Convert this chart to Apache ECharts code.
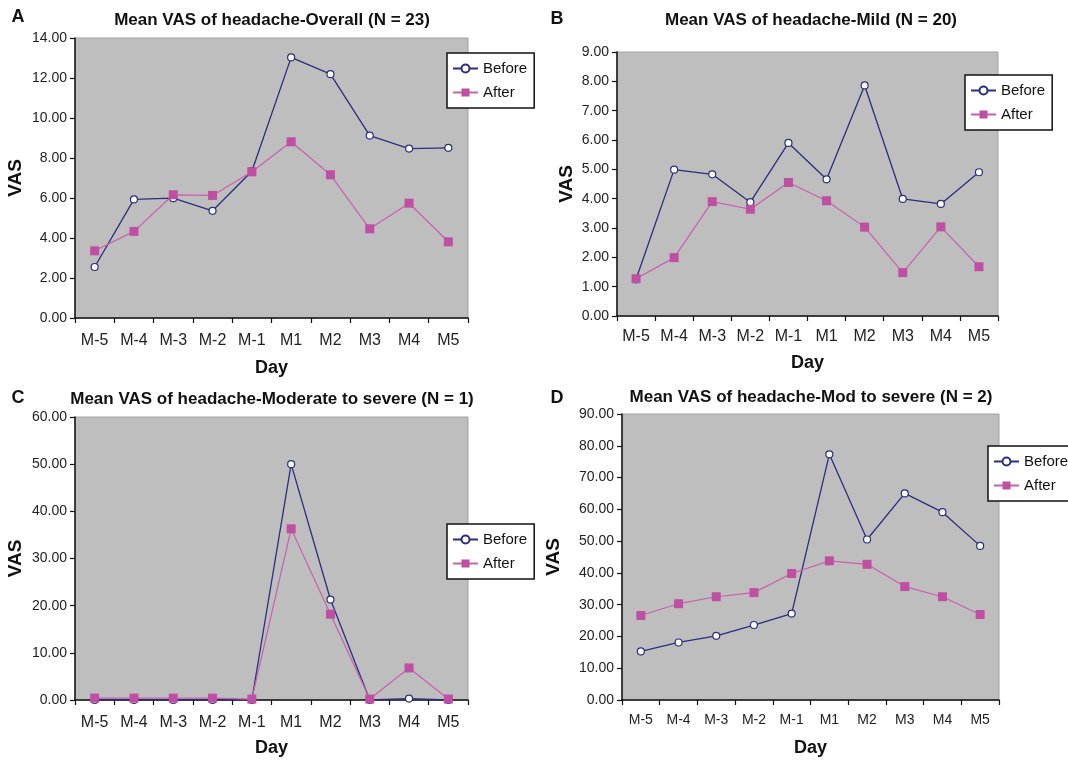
<!DOCTYPE html>
<html>
<head>
<meta charset="utf-8">
<script src="https://cdn.jsdelivr.net/npm/echarts@6/dist/echarts.min.js"></script>
<style>
html,body{margin:0;padding:0;background:#fff;}
#chart{width:1068px;height:760px;}
</style>
</head>
<body>
<div id="chart"></div>
<script>
const categories = ['M-5','M-4','M-3','M-2','M-1','M1','M2','M3','M4','M5'];
const overallBefore = [2.55,5.93,5.99,5.36,7.34,13.03,12.19,9.12,8.47,8.51];
const overallAfter  = [3.36,4.33,6.16,6.13,7.31,8.81,7.16,4.46,5.74,3.81];
const mildBefore = [1.25,4.99,4.83,3.88,5.90,4.66,7.86,3.99,3.82,4.90];
const mildAfter  = [1.27,1.99,3.90,3.64,4.55,3.93,3.03,1.48,3.04,1.68];
const modSevere1Before = [0,0,0,0,0,50.0,21.3,0,0.3,0];
const modSevere1After  = [0.4,0.4,0.4,0.4,0.2,36.3,18.2,0.2,6.8,0.2];
const modSevere2Before = [15.3,18.1,20.2,23.6,27.2,77.3,50.5,65.0,59.1,48.5];
const modSevere2After  = [26.6,30.3,32.5,33.8,39.8,43.8,42.7,35.7,32.5,26.9];
const yMax = [14, 9, 60, 90];
const yInterval = [2, 1, 10, 10];
const panelTitles = [
  'Mean VAS of headache-Overall (N = 23)',
  'Mean VAS of headache-Mild (N = 20)',
  'Mean VAS of headache-Moderate to severe (N = 1)',
  'Mean VAS of headache-Mod to severe (N = 2)'
];
const panelLetters = ['A','B','C','D'];
const seriesNames = ['Before','After'];

const FONT = '"Liberation Sans", Arial, sans-serif';
const NAVY = '#2B2D7E';
const PINK = '#BF4FA2';
const PINKLINE = '#C760AC';

const grids = [
  {left:75, top:38, width:393, height:280},
  {left:617, top:52, width:381, height:264},
  {left:75, top:417, width:393, height:283},
  {left:622, top:414, width:377, height:286}
];
const nameGapY = [50, 41, 50, 59];
const nameGapX = [41, 38, 39, 39];
const xLabelMargin = [15, 13, 15, 13];
const xLabelSize = [16, 16, 16, 14];
const legendPos = [
  {left:447, top:53},
  {left:965, top:75},
  {left:447, top:524},
  {left:988, top:446}
];
const titlePos = [
  {x:272, y:20}, {x:811, y:20}, {x:272, y:399}, {x:811, y:397}
];
const letterPos = [
  {x:18, y:17}, {x:557, y:19}, {x:18, y:398}, {x:557, y:398}
];
const dataSets = [
  [overallBefore, overallAfter],
  [mildBefore, mildAfter],
  [modSevere1Before, modSevere1After],
  [modSevere2Before, modSevere2After]
];

const chart = echarts.init(document.getElementById('chart'), null, {renderer:'canvas'});

const option = {
  backgroundColor: '#ffffff',
  animation: false,
  textStyle: {fontFamily: FONT},
  grid: grids.map(g => Object.assign({
    show: true, backgroundColor: '#BEBEBE', borderColor: '#A3A3A3', borderWidth: 1, containLabel: false
  }, g)),
  xAxis: grids.map((g, i) => ({
    type: 'category', gridIndex: i, data: categories, boundaryGap: true,
    name: 'Day', nameLocation: 'middle', nameGap: nameGapX[i],
    nameTextStyle: {fontFamily: FONT, fontSize: 18, fontWeight: 'bold', color: '#111', verticalAlign: 'top'},
    axisLine: {show: true, lineStyle: {color: '#111', width: 1.5}},
    axisTick: {show: true, inside: false, length: 5, alignWithLabel: false, lineStyle: {color: '#111', width: 1.2}},
    axisLabel: {fontFamily: FONT, fontSize: xLabelSize[i], color: '#222', margin: xLabelMargin[i], interval: 0},
    splitLine: {show: false}
  })),
  yAxis: grids.map((g, i) => ({
    type: 'value', gridIndex: i, min: 0, max: yMax[i], interval: yInterval[i],
    name: 'VAS', nameLocation: 'middle', nameGap: nameGapY[i], nameRotate: 90,
    nameTextStyle: {fontFamily: FONT, fontSize: 19, fontWeight: 'bold', color: '#111'},
    axisLine: {show: true, lineStyle: {color: '#111', width: 1.5}},
    axisTick: {show: true, inside: false, length: 5, lineStyle: {color: '#111', width: 1.2}},
    axisLabel: {fontFamily: FONT, fontSize: 14, color: '#222', margin: 8, formatter: v => v.toFixed(2)},
    splitLine: {show: false}
  })),
  legend: legendPos.map(p => ({
    left: p.left, top: p.top, orient: 'vertical',
    data: seriesNames,
    backgroundColor: '#ffffff', borderColor: '#111', borderWidth: 1.5,
    padding: [8, 7, 8, 5], itemGap: 9, itemWidth: 25, itemHeight: 10,
    textStyle: {fontFamily: FONT, fontSize: 15, color: '#111', lineHeight: 14},
    selectedMode: false, z: 10
  })),
  graphic: [
    ...titlePos.map((p, i) => ({
      type: 'text', x: p.x, y: p.y, z: 20,
      style: {text: panelTitles[i], fontFamily: FONT, fontSize: 17, fontWeight: 'bold', fill: '#111', textAlign: 'center', textVerticalAlign: 'middle'}
    })),
    ...letterPos.map((p, i) => ({
      type: 'text', x: p.x, y: p.y, z: 20,
      style: {text: panelLetters[i], fontFamily: FONT, fontSize: 18, fontWeight: 'bold', fill: '#111', textAlign: 'center', textVerticalAlign: 'middle'}
    }))
  ],
  series: []
};

dataSets.forEach((pair, i) => {
  option.series.push({
    name: seriesNames[0], type: 'line', xAxisIndex: i, yAxisIndex: i,
    data: pair[0], symbol: 'circle', symbolSize: 7, showAllSymbol: true,
    lineStyle: {color: NAVY, width: 1.3},
    itemStyle: {color: '#ffffff', borderColor: NAVY, borderWidth: 1.2},
    z: 3
  });
  option.series.push({
    name: seriesNames[1], type: 'line', xAxisIndex: i, yAxisIndex: i,
    data: pair[1], symbol: 'rect', symbolSize: 9, showAllSymbol: true,
    lineStyle: {color: PINKLINE, width: 1.2},
    itemStyle: {color: PINK, borderColor: PINK, borderWidth: 0},
    z: 4
  });
});

chart.setOption(option);
</script>
</body>
</html>
